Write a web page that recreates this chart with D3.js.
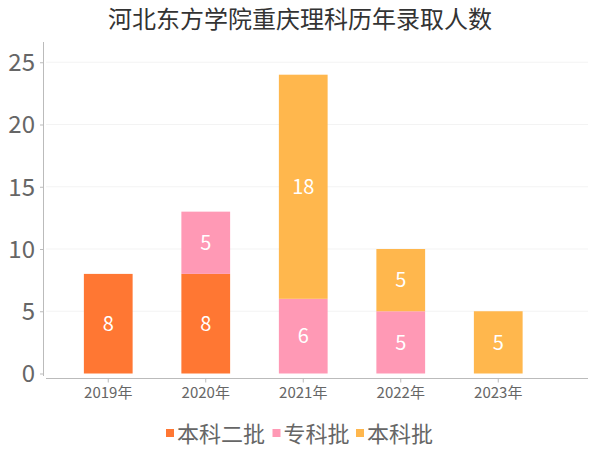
<!DOCTYPE html>
<html><head><meta charset="utf-8">
<script src="https://cdn.jsdelivr.net/npm/d3@7"></script>
<style>body{margin:0;background:#fff}svg{display:block}text{font-family:"Noto Sans CJK SC","Noto Sans",sans-serif}</style>
</head><body><svg id="c" width="600" height="450"></svg>
<script>
const title = "河北东方学院重庆理科历年录取人数";
const categories = ["2019年","2020年","2021年","2022年","2023年"];
const seriesNames = ["本科二批","专科批","本科批"];
const benke2 = [8,8,0,0,0];
const zhuanke = [0,5,6,5,0];
const benke = [0,0,18,5,5];
const yTicks = [0,5,10,15,20,25];
const colors = ["#FF7733","#FF99B5","#FFB74D"];

const svg = d3.select("#c");
const x = d3.scaleBand().domain(categories).range([59.5,547]).paddingInner(0.5).paddingOuter(0.25);
const y = d3.scaleLinear().domain([0,25]).range([373.5,62.25]);

svg.append("text").attr("x",300).attr("y",28).attr("text-anchor","middle")
  .attr("font-size",24).attr("fill","#333").text(title);

// gridlines
svg.append("g").selectAll("line").data(yTicks.filter(d=>d>0)).join("line")
  .attr("x1",46).attr("x2",588).attr("y1",d=>y(d)).attr("y2",d=>y(d))
  .attr("stroke","#f3f3f3").attr("stroke-width",1);

// axes
const yAxis = svg.append("g").attr("transform","translate(43,0)")
  .call(d3.axisLeft(y).tickValues(yTicks).tickSize(3).tickPadding(5));
yAxis.select(".domain").remove();
yAxis.selectAll(".tick line").attr("stroke","#bbb");
yAxis.selectAll("text").attr("font-size",24).attr("fill","#666").attr("dy","0.35em");
svg.append("line").attr("x1",43.5).attr("x2",43.5).attr("y1",42).attr("y2",376).attr("stroke","#bbb");

const xAxis = svg.append("g").attr("transform","translate(0,378.5)")
  .call(d3.axisBottom(x).tickSize(4).tickPadding(5));
xAxis.select(".domain").remove();
xAxis.selectAll(".tick line").attr("stroke","#bbb");
xAxis.selectAll("text").attr("font-size",15).attr("fill","#666");
svg.append("line").attr("x1",46).attr("x2",588).attr("y1",378.5).attr("y2",378.5).attr("stroke","#bbb");

// stacks
const rows = categories.map((c,i)=>({cat:c, s0:benke2[i], s1:zhuanke[i], s2:benke[i]}));
const stack = d3.stack().keys(["s0","s1","s2"])(rows);
const g = svg.append("g");
stack.forEach((layer,li)=>{
  layer.forEach(d=>{
    if(d[1]-d[0]<=0) return;
    const bx = x(d.data.cat), bw = x.bandwidth();
    g.append("rect").attr("x",bx).attr("width",bw)
      .attr("y",y(d[1])).attr("height",y(d[0])-y(d[1])).attr("fill",colors[li]);
    g.append("text").attr("x",bx+bw/2).attr("y",(y(d[0])+y(d[1]))/2).attr("dy","0.36em")
      .attr("text-anchor","middle").attr("font-size",20).attr("fill","#fff").text(d[1]-d[0]);
  });
});

// legend
const legX = [166,272.5,356];
const lg = svg.append("g");
seriesNames.forEach((n,i)=>{
  lg.append("rect").attr("x",legX[i]).attr("y",429).attr("width",8).attr("height",8).attr("fill",colors[i]);
  lg.append("text").attr("x",legX[i]+11).attr("y",434).attr("dy","0.36em").attr("font-size",22).attr("fill","#666").text(n);
});
</script></body></html>
